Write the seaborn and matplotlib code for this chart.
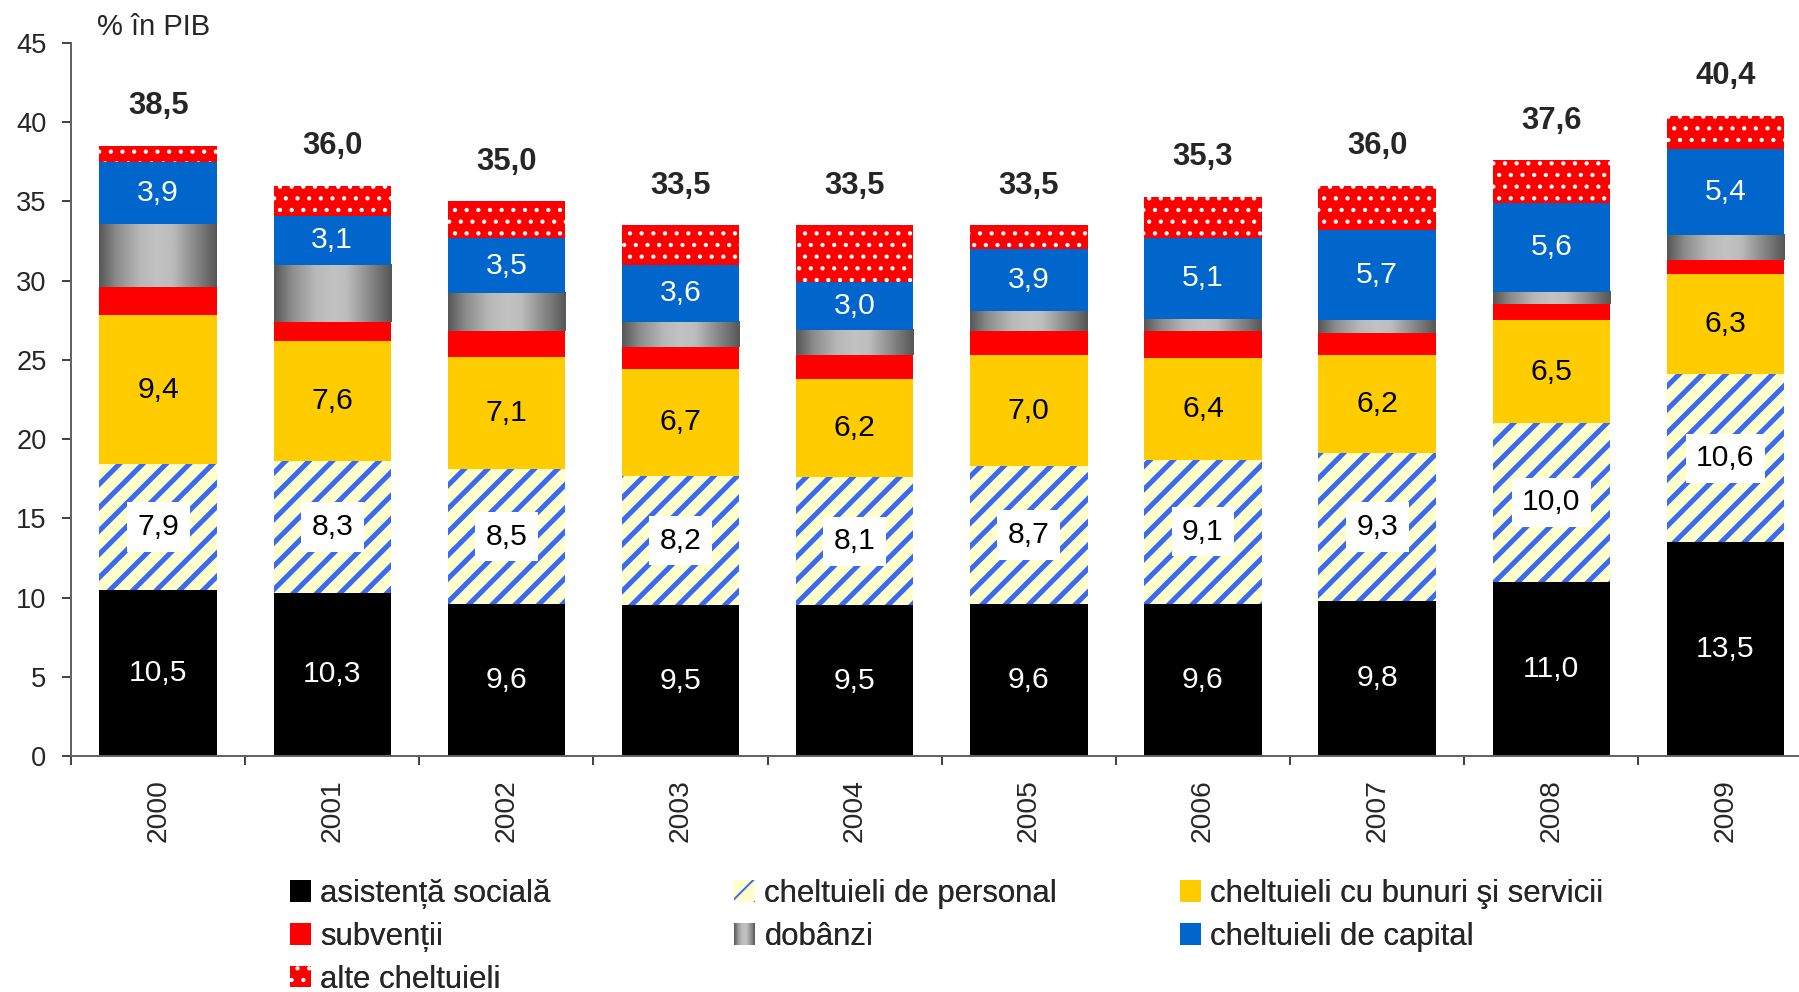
import numpy as np
import matplotlib
matplotlib.use('Agg')
import matplotlib.pyplot as plt
from matplotlib.patches import Patch, Rectangle
from matplotlib.legend_handler import HandlerBase
import seaborn as sns

# data (% in PIB)
years = ['2000', '2001', '2002', '2003', '2004', '2005', '2006', '2007', '2008', '2009']
asistenta = [10.5, 10.3, 9.6, 9.5, 9.5, 9.6, 9.6, 9.8, 11.0, 13.5]
personal = [7.9, 8.3, 8.5, 8.2, 8.1, 8.7, 9.1, 9.3, 10.0, 10.6]
bunuri = [9.4, 7.6, 7.1, 6.7, 6.2, 7.0, 6.4, 6.2, 6.5, 6.3]
subventii = [1.8, 1.2, 1.6, 1.4, 1.5, 1.5, 1.7, 1.4, 1.0, 0.9]
dobanzi = [4.0, 3.6, 2.4, 1.6, 1.6, 1.3, 0.8, 0.8, 0.8, 1.6]
capital = [3.9, 3.1, 3.5, 3.6, 3.0, 3.9, 5.1, 5.7, 5.6, 5.4]
alte = [1.0, 1.9, 2.3, 2.5, 3.6, 1.5, 2.6, 2.8, 2.7, 2.1]
totals = [38.5, 36.0, 35.0, 33.5, 33.5, 33.5, 35.3, 36.0, 37.6, 40.4]

labels = ['asistență socială', 'cheltuieli de personal', 'cheltuieli cu bunuri şi servicii',
          'subvenții', 'dobânzi', 'cheltuieli de capital', 'alte cheltuieli']

# grey "cylinder" shading used for dobanzi
grad_pos = [0.0, 0.15, 0.35, 0.5, 0.62, 0.8, 1.0]
grad_val = [0.34, 0.55, 0.72, 0.76, 0.74, 0.55, 0.34]


def fmt(v):
    return f'{v:.1f}'.replace('.', ',')


class GradientHandler(HandlerBase):
    def create_artists(self, legend, orig_handle, xdescent, ydescent,
                       width, height, fontsize, trans):
        n = 24
        arts = []
        for i in range(n):
            g = np.interp((i + 0.5) / n, grad_pos, grad_val)
            arts.append(Rectangle((-xdescent + i * width / n, -ydescent),
                                  width / n * 1.05, height, facecolor=str(g),
                                  edgecolor='none', transform=trans))
        return arts


sns.set_theme(style='ticks')
plt.rcParams['font.family'] = ['Liberation Sans', 'DejaVu Sans']

DPI = 140
fig = plt.figure(figsize=(1799 / DPI, 992 / DPI), dpi=DPI)
ax = fig.add_axes([0.0395, 0.2379, 0.968, 0.7188])

x = np.arange(len(years))
w = 0.675
bottom = np.zeros(len(years))

ax.bar(x, asistenta, w, bottom=bottom, color='black', linewidth=0, zorder=2)
for xi, b, v in zip(x, bottom, asistenta):
    ax.text(xi, b + v / 2, fmt(v), ha='center', va='center', color='white', fontsize=15.5, zorder=5)
bottom += asistenta

with plt.rc_context({'hatch.linewidth': 2.6}):
    ax.bar(x, personal, w, bottom=bottom, color='#FFFFCC', edgecolor='#3A6AF0',
           hatch='//', linewidth=0, zorder=2)
for xi, b, v in zip(x, bottom, personal):
    ax.text(xi, b + v / 2, fmt(v), ha='center', va='center', color='black', fontsize=15.5, zorder=5,
            bbox=dict(boxstyle='square,pad=0.35', facecolor='white', edgecolor='none'))
bottom += personal

ax.bar(x, bunuri, w, bottom=bottom, color='#FFCC00', linewidth=0, zorder=2)
for xi, b, v in zip(x, bottom, bunuri):
    ax.text(xi, b + v / 2, fmt(v), ha='center', va='center', color='black', fontsize=15.5, zorder=5)
bottom += bunuri

ax.bar(x, subventii, w, bottom=bottom, color='#FF0000', linewidth=0, zorder=2)
bottom += subventii

grad = np.interp(np.linspace(0, 1, 200), grad_pos, grad_val)[None, :]
for xi, b, v in zip(x, bottom, dobanzi):
    ax.imshow(grad, cmap='gray', vmin=0, vmax=1, aspect='auto', interpolation='bilinear',
              extent=(xi - w / 2, xi + w / 2, b, b + v), zorder=2)
bottom += dobanzi

ax.bar(x, capital, w, bottom=bottom, color='#0066CC', linewidth=0, zorder=2)
for xi, b, v in zip(x, bottom, capital):
    ax.text(xi, b + v / 2, fmt(v), ha='center', va='center', color='white', fontsize=15.5, zorder=5)
bottom += capital

with plt.rc_context({'hatch.linewidth': 1.0}):
    ax.bar(x, alte, w, bottom=bottom, color='#FF0000', edgecolor='white',
           hatch='..', linewidth=0, zorder=2)

for xi, t in zip(x, totals):
    ax.text(xi, t + 2.5, fmt(t), ha='center', va='center', fontsize=16, fontweight='bold')

ax.set_xlim(-0.5, len(years) - 0.5)
ax.set_ylim(0, 45)
ax.set_yticks(np.arange(0, 46, 5))
ax.set_xticks(x)
ax.set_xticklabels(years, rotation=90, fontsize=14.5)
ax.set_xticks(np.arange(-0.5, len(years), 1), minor=True)
ax.tick_params(axis='x', which='major', length=0, pad=12)
ax.tick_params(axis='x', which='minor', length=4.6, width=1, color='#404040')
ax.tick_params(axis='y', length=4.6, width=1, color='#404040', labelsize=14, pad=8)
for s in ['top', 'right']:
    ax.spines[s].set_visible(False)
for s in ['left', 'bottom']:
    ax.spines[s].set_color('#606060')
    ax.spines[s].set_linewidth(1)
ax.set_facecolor('white')

fig.text(0.054, 0.973, '% în PIB', fontsize=15, ha='left', va='center')

# legend: three columns placed side by side
h_asis = Patch(facecolor='black', linewidth=0)
h_pers = Patch(facecolor='#FFFFCC', edgecolor='#3A6AF0', hatch='//', linewidth=0)
h_bun = Patch(facecolor='#FFCC00', linewidth=0)
h_sub = Patch(facecolor='#FF0000', linewidth=0)
h_dob = Patch(facecolor='0.6', linewidth=0)
h_cap = Patch(facecolor='#0066CC', linewidth=0)
h_alte = Patch(facecolor='#FF0000', edgecolor='white', hatch='..', linewidth=0)

cols = [([h_asis, h_sub, h_alte], [labels[0], labels[3], labels[6]], 290),
        ([h_pers, h_dob], [labels[1], labels[4]], 734),
        ([h_bun, h_cap], [labels[2], labels[5]], 1180)]
for handles, labs, xpx in cols:
    leg = fig.legend(handles, labs, loc='upper left',
                     bbox_to_anchor=(xpx / 1799, 1 - 879 / 992),
                     frameon=False, fontsize=16, borderpad=0, borderaxespad=0,
                     handlelength=0.68, handleheight=0.68, handletextpad=0.3,
                     labelspacing=0.41, handler_map={h_dob: GradientHandler()})
    fig.add_artist(leg)

fig.savefig('out.png', dpi=DPI, facecolor='white')
